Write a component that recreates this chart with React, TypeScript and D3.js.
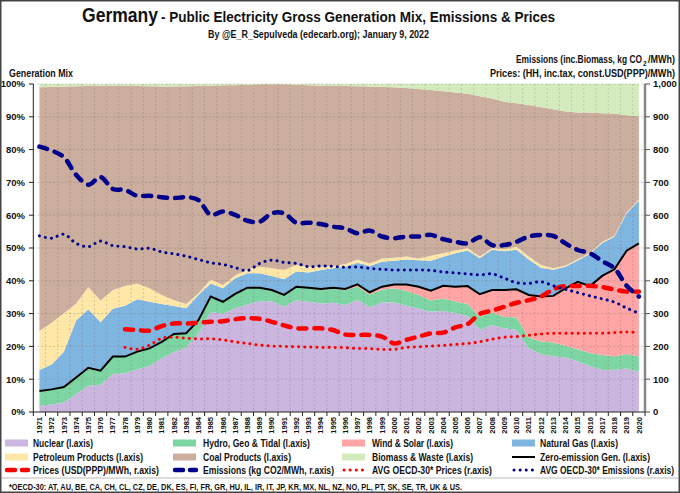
import React from 'react';
import * as d3 from 'd3';

const years = ['1971','1972','1973','1974','1975','1976','1977','1978','1979','1980','1981','1982','1983','1984','1985','1986','1987','1988','1989','1990','1991','1992','1993','1994','1995','1996','1997','1998','1999','2000','2001','2002','2003','2004','2005','2006','2007','2008','2009','2010','2011','2012','2013','2014','2015','2016','2017','2018','2019','2020'];

// Generation mix shares (%), left axis
const nuclear = [1.8,2.3,2.9,5.5,8.0,8.3,11.6,11.8,13.0,14.0,16.4,18.3,19.7,24.0,30.6,29.9,31.6,32.8,33.8,33.8,32.1,34.1,33.6,33.1,33.3,32.6,34.2,31.9,33.4,33.4,32.4,31.5,30.6,30.8,30.2,29.3,25.0,26.5,25.5,25.0,19.4,17.6,17.0,16.6,15.5,14.0,12.8,12.9,13.3,12.3];
const hydro = [4.6,4.6,4.7,5.0,5.5,4.3,5.3,5.1,5.4,5.4,5.0,5.5,4.3,4.0,4.6,3.7,4.4,5.1,4.1,3.4,3.6,4.0,4.2,4.2,4.3,4.5,4.1,3.9,3.9,4.3,4.5,4.2,3.4,3.8,3.5,3.6,4.0,3.8,3.5,3.8,3.3,3.9,4.2,3.6,3.6,4.0,4.6,4.1,4.4,4.6];
const windSolar = [0,0,0,0,0,0,0,0,0,0,0,0,0,0,0,0,0,0,0,0,0,0.1,0.1,0.2,0.3,0.4,0.6,0.7,0.9,1.2,2.0,2.5,3.0,3.9,4.5,5.5,6.9,6.9,8.2,8.6,13.0,13.7,14.2,17.5,20.6,20.4,24.1,26.5,31.5,34.5];
const naturalGas = [6.4,7.6,10.8,17.4,17.8,14.8,14.6,15.5,16.0,14.2,11.5,8.5,7.6,7.7,4.0,4.1,4.8,4.4,4.4,4.3,4.8,4.6,4.6,5.8,5.9,6.8,6.6,8.0,7.6,7.2,7.6,8.1,9.1,8.8,10.2,10.8,11.0,12.3,11.8,12.1,10.8,8.8,8.0,6.6,6.5,9.8,10.0,9.9,11.4,13.1];
const petroleum = [11.9,12.7,11.7,5.2,6.7,6.6,5.7,6.0,4.8,4.1,2.8,1.8,1.3,0.5,1.2,1.0,0.8,1.2,2.0,2.3,2.8,2.0,1.8,1.0,0.7,0.8,1.0,0.8,1.0,0.9,0.9,0.5,1.5,1.1,0.8,0.7,0.5,0.4,0.6,0.9,0.9,0.8,0.4,0.4,0.4,0.3,0.3,0.3,0.3,0.3];
const coal = [74.3,71.9,69.1,66.2,61.4,65.5,62.3,61.1,60.2,61.6,63.5,65.1,66.4,63.2,59.1,60.9,58.0,56.3,55.6,56.1,56.6,55.0,55.3,55.2,55.0,54.3,52.8,53.9,52.3,52.0,51.4,51.7,50.6,49.4,48.2,47.1,48.9,45.7,45.0,43.7,46.2,48.1,48.5,46.9,44.7,42.8,39.3,37.3,29.6,25.4];
const biomass = [1.0,0.9,0.8,0.7,0.6,0.5,0.5,0.5,0.6,0.7,0.8,0.8,0.7,0.6,0.5,0.4,0.4,0.2,0.1,0.1,0.1,0.2,0.4,0.5,0.5,0.6,0.7,0.8,0.9,1.0,1.2,1.5,1.8,2.2,2.6,3.0,3.7,4.4,5.4,5.9,6.4,7.1,7.7,8.4,8.7,8.7,8.9,9.0,9.5,9.8];
const zeroEmission = [6.4,6.9,7.6,10.5,13.5,12.6,16.9,16.9,18.4,19.4,21.4,23.8,24.0,28.0,35.2,33.6,36.0,37.9,37.9,37.2,35.7,38.2,37.9,37.5,37.9,37.5,38.9,36.5,38.2,38.9,38.9,38.2,37.0,38.5,38.2,38.4,35.9,37.2,37.2,37.4,35.7,35.2,35.4,37.7,39.7,38.4,41.5,43.5,49.2,51.4];

// Right axis series
const emissions = [809,797,777,723,693,716,680,677,659,659,655,652,655,646,601,611,601,583,580,606,606,577,577,573,565,560,545,553,535,530,535,535,540,527,519,514,533,509,509,519,535,540,537,514,494,484,460,438,385,352];
const oecdEmissions = [537,530,542,514,504,521,507,504,497,499,488,482,475,465,455,450,440,431,453,463,456,453,443,445,444,441,442,438,435,433,433,433,432,427,424,421,418,421,408,394,392,397,385,374,364,354,345,335,317,301];
const prices = [null,null,null,null,null,null,null,252,250,248,262,270,270,272,275,277,283,286,284,275,264,255,255,255,250,236,235,235,230,209,220,230,240,242,258,268,299,309,321,333,341,352,374,384,384,385,381,373,367,367];
const oecdPrices = [null,null,null,null,null,null,null,197,191,204,225,228,225,223,223,220,214,209,204,201,200,199,198,197,197,196,194,193,191,191,197,199,201,203,206,209,214,222,228,230,234,238,240,240,240,240,240,242,244,242];

const leftTicks = [0,10,20,30,40,50,60,70,80,90,100];
const rightTicks = [0,100,200,300,400,500,600,700,800,900,1000];

const COLORS = {
  nuclear: '#CBB6DF',
  hydro: '#7DD5A3',
  windSolar: '#FFA5A5',
  naturalGas: '#7FB5E1',
  petroleum: '#FFE7A8',
  coal: '#CBAE9D',
  biomass: '#D4ECBD',
};
const NAVY = '#00008B';
const RED = '#FF0000';
const FONT = "'Liberation Sans', Arial, sans-serif";

export default function App() {
  const W = 680, H = 493;
  const x = d3.scaleBand<string>().domain(years).range([33.3, 645]);
  const bw = x.bandwidth();
  const cx = (yr: string) => (x(yr) as number) + bw / 2;
  const yL = d3.scaleLinear().domain([0, 100]).range([412, 84]);
  const yR = d3.scaleLinear().domain([0, 1000]).range([412, 84]);

  const keys = ['nuclear', 'hydro', 'windSolar', 'naturalGas', 'petroleum', 'coal', 'biomass'];
  const rows = years.map((yr, i) => ({
    year: yr,
    nuclear: nuclear[i], hydro: hydro[i], windSolar: windSolar[i], naturalGas: naturalGas[i],
    petroleum: petroleum[i], coal: coal[i], biomass: biomass[i],
  }));
  const series = d3.stack<any>().keys(keys)(rows);
  const area = d3.area<any>()
    .x((d) => cx(d.data.year))
    .y0((d) => yL(d[0]))
    .y1((d) => yL(d[1]));

  const rLine = (curve: any) => d3.line<number | null>()
    .defined((v) => v != null)
    .x((_, i) => cx(years[i]))
    .y((v) => yR(v as number))
    .curve(curve);
  const smooth = d3.curveCatmullRom.alpha(0.5);
  const zeroLine = d3.line<number>().x((_, i) => cx(years[i])).y((v) => yL(v));

  const boundaries = years.map((yr) => x(yr) as number).concat([645]);

  const legendCols = [5, 173, 342, 512];
  const legendTextX = [33, 203, 372, 540];
  const legendRows = [443, 457, 470];
  const legendItems: any[] = [
    { label: 'Nuclear (l.axis)', w: 60, type: 'area', color: COLORS.nuclear },
    { label: 'Hydro, Geo & Tidal (l.axis)', w: 107, type: 'area', color: COLORS.hydro },
    { label: 'Wind & Solar (l.axis)', w: 81, type: 'area', color: COLORS.windSolar },
    { label: 'Natural Gas (l.axis)', w: 78, type: 'area', color: COLORS.naturalGas },
    { label: 'Petroleum Products (l.axis)', w: 110, type: 'area', color: COLORS.petroleum },
    { label: 'Coal Products (l.axis)', w: 88, type: 'area', color: COLORS.coal },
    { label: 'Biomass & Waste (l.axis)', w: 101, type: 'area', color: COLORS.biomass },
    { label: 'Zero-emission Gen. (l.axis)', w: 110, type: 'solid', color: '#000' },
    { label: 'Prices (USD(PPP)/MWh, r.axis)', w: 126, type: 'dash', color: RED },
    { label: 'Emissions (kg CO2/MWh, r.axis)', w: 131, type: 'dash', color: NAVY },
    { label: 'AVG OECD-30* Prices (r.axis)', w: 120, type: 'dot', color: RED },
    { label: 'AVG OECD-30* Emissions (r.axis)', w: 134, type: 'dot', color: NAVY, anchorEnd: true },
  ];

  return (
    <svg width={W} height={H} style={{ position: 'absolute', left: 0, top: 0, background: '#fff' }} fontFamily={FONT}>
      <rect x={0} y={0} width={W} height={H} fill="#fff" />
      {/* Title */}
      <text x={82} y={22} fontWeight="bold" fill="#111" fontSize={21} textLength={76} lengthAdjust="spacingAndGlyphs">Germany</text>
      <text x={161} y={22} fontWeight="bold" fill="#111" fontSize={14.5} textLength={394} lengthAdjust="spacingAndGlyphs">- Public Electricity Gross Generation Mix, Emissions &amp; Prices</text>
      <text x={208} y={38} fontWeight="bold" fontSize={10} fill="#111" textLength={221} lengthAdjust="spacingAndGlyphs">
        By @E_R_Sepulveda (edecarb.org); January 9, 2022
      </text>
      <text x={516} y={63} fontWeight="bold" fontSize={10} fill="#111" textLength={126} lengthAdjust="spacingAndGlyphs">Emissions (inc.Biomass, kg CO</text>
      <text x={643} y={65.5} fontWeight="bold" fontSize={6.5} fill="#111">2</text>
      <text x={675} y={63} textAnchor="end" fontWeight="bold" fontSize={10} fill="#111" textLength={27} lengthAdjust="spacingAndGlyphs">/MWh)</text>
      <text x={675} y={77} textAnchor="end" fontWeight="bold" fontSize={10} fill="#111" textLength={185} lengthAdjust="spacingAndGlyphs">
        Prices: (HH, inc.tax, const.USD(PPP)/MWh)
      </text>
      <text x={9} y={77} fontWeight="bold" fontSize={10} fill="#111" textLength={64} lengthAdjust="spacingAndGlyphs">Generation Mix</text>

      {/* Stacked areas */}
      {series.map((s: any) => (
        <path key={s.key} d={area(s) as string} fill={(COLORS as any)[s.key]} />
      ))}

      {/* Grid */}
      {leftTicks.slice(1).map((t) => (
        <line key={'h' + t} x1={33.3} x2={645} y1={yL(t)} y2={yL(t)} stroke="#7a6a68" strokeOpacity={0.4} strokeWidth={0.8} strokeDasharray="2,2" />
      ))}
      {boundaries.slice(1, -1).map((bx, i) => (
        <line key={'v' + i} x1={bx} x2={bx} y1={84} y2={412} stroke="#7a6a68" strokeOpacity={0.35} strokeWidth={0.8} strokeDasharray="2,2" />
      ))}

      {/* Lines */}
      <path d={zeroLine(zeroEmission) as string} fill="none" stroke="#000" strokeWidth={2} />
      <path d={rLine(smooth)(oecdPrices) as string} fill="none" stroke={RED} strokeWidth={3} strokeDasharray="0.1,6" strokeLinecap="round" />
      <path d={rLine(smooth)(prices) as string} fill="none" stroke={RED} strokeWidth={4.5} strokeDasharray="8,8" strokeLinecap="round" />
      <path d={rLine(smooth)(oecdEmissions) as string} fill="none" stroke={NAVY} strokeWidth={3} strokeDasharray="0.1,6" strokeLinecap="round" />
      <path d={rLine(smooth)(emissions) as string} fill="none" stroke={NAVY} strokeWidth={4.5} strokeDasharray="8,8" strokeLinecap="round" />

      {/* Left axis */}
      <line x1={33.3} x2={33.3} y1={84} y2={412} stroke="#222" strokeWidth={1} />
      {leftTicks.map((t) => (
        <g key={'lt' + t}>
          <line x1={29} x2={33.3} y1={yL(t)} y2={yL(t)} stroke="#222" strokeWidth={1} />
          <text x={25} y={yL(t)} dy="0.35em" textAnchor="end" fontSize={9.5} fontWeight="bold" fill="#111">{t}%</text>
        </g>
      ))}
      {/* Right axis */}
      <line x1={645} x2={645} y1={84} y2={412} stroke="#888" strokeWidth={2.5} />
      {rightTicks.map((t) => (
        <g key={'rt' + t}>
          <line x1={645} x2={650} y1={yR(t)} y2={yR(t)} stroke="#555" strokeWidth={1} />
          <text x={653} y={yR(t)} dy="0.35em" fontSize={9.5} fontWeight="bold" fill="#111">{d3.format(',')(t)}</text>
        </g>
      ))}
      {/* X axis */}
      <line x1={33.3} x2={645} y1={412} y2={412} stroke="#222" strokeWidth={1} />
      {boundaries.map((bx, i) => (
        <line key={'xt' + i} x1={bx} x2={bx} y1={412} y2={416} stroke="#222" strokeWidth={1} />
      ))}
      {years.map((yr) => (
        <text key={'xl' + yr} transform={`translate(${cx(yr)},417) rotate(-90)`} textAnchor="end" dy="0.35em" fontSize={7.5} fontWeight="bold" fill="#111">{yr}</text>
      ))}

      {/* Legend */}
      {legendItems.map((it, i) => {
        const r = Math.floor(i / 4), c = i % 4;
        const sx = legendCols[c], y = legendRows[r];
        let sw;
        if (it.type === 'area') sw = <rect x={sx} y={y - 3.5} width={23} height={7} fill={it.color} />;
        else if (it.type === 'solid') sw = <line x1={sx} x2={sx + 23} y1={y} y2={y} stroke={it.color} strokeWidth={2} />;
        else if (it.type === 'dash') sw = <line x1={sx + 2} x2={sx + 23} y1={y} y2={y} stroke={it.color} strokeWidth={4.5} strokeDasharray="8,7" strokeLinecap="round" />;
        else sw = <line x1={sx + 2} x2={sx + 23} y1={y} y2={y} stroke={it.color} strokeWidth={3} strokeDasharray="0.1,6" strokeLinecap="round" />;
        const tx = it.anchorEnd ? legendTextX[c] + it.w : legendTextX[c];
        return (
          <g key={'lg' + i}>
            {sw}
            <text x={tx} y={y} dy="0.35em" textAnchor={it.anchorEnd ? 'end' : 'start'} fontSize={10.5} fontWeight="bold" fill="#111" textLength={it.w} lengthAdjust="spacingAndGlyphs">{it.label}</text>
          </g>
        );
      })}
      <line x1={2} x2={678} y1={478} y2={478} stroke="#aaa" strokeWidth={0.8} />
      <text x={9} y={487} dy="0.35em" fontSize={8.5} fontWeight="bold" fill="#111" textLength={453} lengthAdjust="spacingAndGlyphs">
        *OECD-30: AT, AU, BE, CA, CH, CL, CZ, DE, DK, ES, FI, FR, GR, HU, IL, IR, IT, JP, KR, MX, NL, NZ, NO, PL, PT, SK, SE, TR, UK &amp; US.
      </text>
      <rect x={0.75} y={0.75} width={W - 1.5} height={H - 1.5} fill="none" stroke="#444" strokeWidth={1.5} />
    </svg>
  );
}
